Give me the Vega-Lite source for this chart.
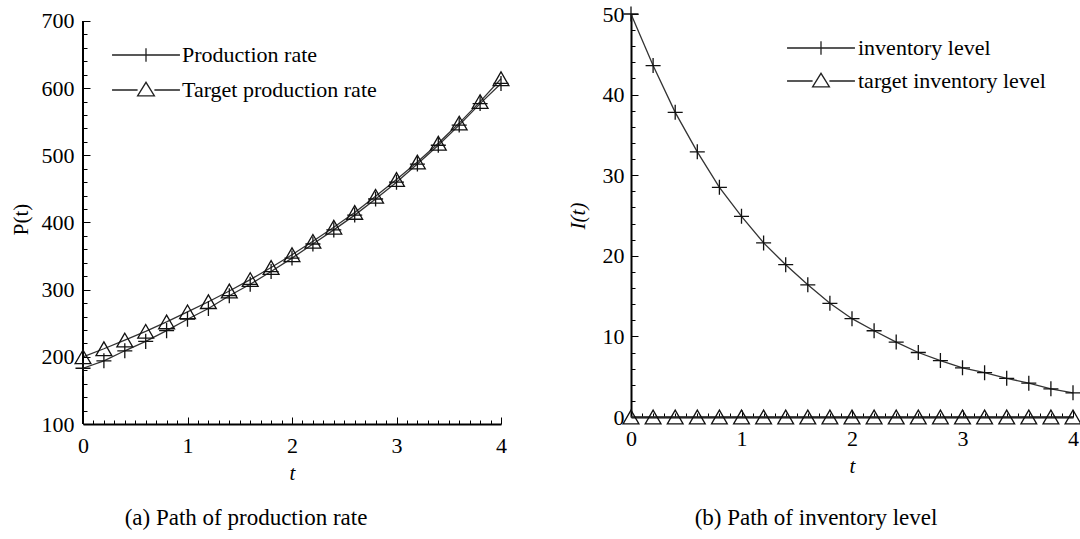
{
  "$schema": "https://vega.github.io/schema/vega-lite/v6.json",
  "background": "white",
  "padding": {"left": 10, "top": 3, "right": 0, "bottom": 0},
  "spacing": 55,
  "config": {
    "font": "Liberation Serif",
    "view": {"stroke": null},
    "axis": {
      "domainColor": "black",
      "domainWidth": 2,
      "tickColor": "black",
      "tickWidth": 1,
      "grid": false,
      "labelFont": "Liberation Serif",
      "labelFontSize": 22,
      "labelColor": "black",
      "labelFlush": false,
      "labelOverlap": false,
      "titleFont": "Liberation Serif",
      "titleFontSize": 21,
      "titleFontWeight": "normal",
      "titleColor": "black"
    },
    "legend": {
      "padding": 0,
      "labelFont": "Liberation Serif",
      "labelFontSize": 22,
      "labelColor": "black",
      "labelLimit": 500,
      "symbolSize": 196,
      "symbolStrokeWidth": 1.3,
      "symbolStrokeColor": "#222",
      "symbolFillColor": "white"
    }
  },
  "datasets": {
    "prod": [
      {"t": 0.0, "value": 183, "series": "Production rate"},
      {"t": 0.2, "value": 194, "series": "Production rate"},
      {"t": 0.4, "value": 209, "series": "Production rate"},
      {"t": 0.6, "value": 223, "series": "Production rate"},
      {"t": 0.8, "value": 239, "series": "Production rate"},
      {"t": 1.0, "value": 256, "series": "Production rate"},
      {"t": 1.2, "value": 272, "series": "Production rate"},
      {"t": 1.4, "value": 291, "series": "Production rate"},
      {"t": 1.6, "value": 308, "series": "Production rate"},
      {"t": 1.8, "value": 327, "series": "Production rate"},
      {"t": 2.0, "value": 347, "series": "Production rate"},
      {"t": 2.2, "value": 368, "series": "Production rate"},
      {"t": 2.4, "value": 389, "series": "Production rate"},
      {"t": 2.6, "value": 411, "series": "Production rate"},
      {"t": 2.8, "value": 435, "series": "Production rate"},
      {"t": 3.0, "value": 460, "series": "Production rate"},
      {"t": 3.2, "value": 487, "series": "Production rate"},
      {"t": 3.4, "value": 515, "series": "Production rate"},
      {"t": 3.6, "value": 545, "series": "Production rate"},
      {"t": 3.8, "value": 577, "series": "Production rate"},
      {"t": 4.0, "value": 607, "series": "Production rate"},
      {"t": 0.0, "value": 200, "series": "Target production rate"},
      {"t": 0.2, "value": 212, "series": "Target production rate"},
      {"t": 0.4, "value": 225, "series": "Target production rate"},
      {"t": 0.6, "value": 238, "series": "Target production rate"},
      {"t": 0.8, "value": 252, "series": "Target production rate"},
      {"t": 1.0, "value": 267, "series": "Target production rate"},
      {"t": 1.2, "value": 282, "series": "Target production rate"},
      {"t": 1.4, "value": 298, "series": "Target production rate"},
      {"t": 1.6, "value": 315, "series": "Target production rate"},
      {"t": 1.8, "value": 333, "series": "Target production rate"},
      {"t": 2.0, "value": 352, "series": "Target production rate"},
      {"t": 2.2, "value": 372, "series": "Target production rate"},
      {"t": 2.4, "value": 393, "series": "Target production rate"},
      {"t": 2.6, "value": 415, "series": "Target production rate"},
      {"t": 2.8, "value": 439, "series": "Target production rate"},
      {"t": 3.0, "value": 464, "series": "Target production rate"},
      {"t": 3.2, "value": 490, "series": "Target production rate"},
      {"t": 3.4, "value": 518, "series": "Target production rate"},
      {"t": 3.6, "value": 548, "series": "Target production rate"},
      {"t": 3.8, "value": 580, "series": "Target production rate"},
      {"t": 4.0, "value": 614, "series": "Target production rate"}
    ],
    "inv": [
      {"t": 0.0, "value": 50.0, "series": "inventory level"},
      {"t": 0.2, "value": 43.6, "series": "inventory level"},
      {"t": 0.4, "value": 37.8, "series": "inventory level"},
      {"t": 0.6, "value": 32.9, "series": "inventory level"},
      {"t": 0.8, "value": 28.5, "series": "inventory level"},
      {"t": 1.0, "value": 24.9, "series": "inventory level"},
      {"t": 1.2, "value": 21.6, "series": "inventory level"},
      {"t": 1.4, "value": 18.9, "series": "inventory level"},
      {"t": 1.6, "value": 16.4, "series": "inventory level"},
      {"t": 1.8, "value": 14.1, "series": "inventory level"},
      {"t": 2.0, "value": 12.2, "series": "inventory level"},
      {"t": 2.2, "value": 10.7, "series": "inventory level"},
      {"t": 2.4, "value": 9.3, "series": "inventory level"},
      {"t": 2.6, "value": 8.0, "series": "inventory level"},
      {"t": 2.8, "value": 7.0, "series": "inventory level"},
      {"t": 3.0, "value": 6.1, "series": "inventory level"},
      {"t": 3.2, "value": 5.5, "series": "inventory level"},
      {"t": 3.4, "value": 4.8, "series": "inventory level"},
      {"t": 3.6, "value": 4.2, "series": "inventory level"},
      {"t": 3.8, "value": 3.5, "series": "inventory level"},
      {"t": 4.0, "value": 3.0, "series": "inventory level"},
      {"t": 0.0, "value": 0, "series": "target inventory level"},
      {"t": 0.2, "value": 0, "series": "target inventory level"},
      {"t": 0.4, "value": 0, "series": "target inventory level"},
      {"t": 0.6, "value": 0, "series": "target inventory level"},
      {"t": 0.8, "value": 0, "series": "target inventory level"},
      {"t": 1.0, "value": 0, "series": "target inventory level"},
      {"t": 1.2, "value": 0, "series": "target inventory level"},
      {"t": 1.4, "value": 0, "series": "target inventory level"},
      {"t": 1.6, "value": 0, "series": "target inventory level"},
      {"t": 1.8, "value": 0, "series": "target inventory level"},
      {"t": 2.0, "value": 0, "series": "target inventory level"},
      {"t": 2.2, "value": 0, "series": "target inventory level"},
      {"t": 2.4, "value": 0, "series": "target inventory level"},
      {"t": 2.6, "value": 0, "series": "target inventory level"},
      {"t": 2.8, "value": 0, "series": "target inventory level"},
      {"t": 3.0, "value": 0, "series": "target inventory level"},
      {"t": 3.2, "value": 0, "series": "target inventory level"},
      {"t": 3.4, "value": 0, "series": "target inventory level"},
      {"t": 3.6, "value": 0, "series": "target inventory level"},
      {"t": 3.8, "value": 0, "series": "target inventory level"},
      {"t": 4.0, "value": 0, "series": "target inventory level"}
    ]
  },
  "hconcat": [
    {
      "width": 418,
      "height": 410,
      "data": {"name": "prod"},
      "title": {"text": "(a) Path of production rate", "orient": "bottom", "anchor": "middle", "frame": "group", "dx": -46, "offset": 24, "fontSize": 23, "font": "Liberation Serif", "fontWeight": "normal", "color": "black"},
      "layer": [
        {"mark": {"type": "line", "stroke": "#333", "strokeWidth": 1.3},
         "encoding": {
           "x": {"field": "t", "type": "quantitative", "scale": {"domain": [0, 4], "nice": false},
             "axis": {"orient": "bottom", "title": "t", "titleFontStyle": "italic", "titlePadding": 6, "labelPadding": 18, "format": "d", "values": [0, 1, 2, 3, 4], "tickSize": -7}},
           "y": {"field": "value", "type": "quantitative", "scale": {"domain": [100, 710.4], "nice": false, "zero": false},
             "axis": {"orient": "left", "title": "P(t)", "titlePadding": 10, "labelPadding": 16, "format": "d", "values": [100, 200, 300, 400, 500, 600, 700], "tickSize": -7, "domain": false}},
           "detail": {"field": "series", "type": "nominal"}}},
        {"mark": {"type": "rule", "stroke": "black", "strokeWidth": 2},
         "encoding": {
           "x": {"datum": 0, "type": "quantitative", "axis": null},
           "y": {"datum": 100, "type": "quantitative", "axis": null},
           "y2": {"datum": 700}}},
        {"mark": {"type": "point", "filled": false, "stroke": "#111", "strokeWidth": 1.3, "size": 250, "opacity": 1},
         "encoding": {
           "x": {"field": "t", "type": "quantitative",
             "axis": {"orient": "bottom", "title": null, "labels": false, "domain": false, "tickSize": -4,
               "values": [0.1,0.2,0.3,0.4,0.5,0.6,0.7,0.8,0.9,1.1,1.2,1.3,1.4,1.5,1.6,1.7,1.8,1.9,2.1,2.2,2.3,2.4,2.5,2.6,2.7,2.8,2.9,3.1,3.2,3.3,3.4,3.5,3.6,3.7,3.8,3.9]}},
           "y": {"field": "value", "type": "quantitative",
             "axis": {"orient": "left", "title": null, "labels": false, "domain": false, "tickSize": -4,
               "values": [120,140,160,180,220,240,260,280,320,340,360,380,420,440,460,480,520,540,560,580,620,640,660,680]}},
           "shape": {"field": "series", "type": "nominal",
             "scale": {"domain": ["Production rate", "Target production rate"], "range": ["M-0.95,0H0.95M0,-0.95V0.95", "triangle-up"]},
             "legend": null}}},
        {"transform": [{"filter": "datum.t < 0"}],
         "mark": {"type": "point", "filled": false, "stroke": "#222", "strokeWidth": 1.3},
         "encoding": {
           "x": {"field": "t", "type": "quantitative", "axis": null},
           "y": {"field": "value", "type": "quantitative", "axis": null},
           "shape": {"field": "series", "type": "nominal",
             "scale": {"domain": ["Production rate", "Target production rate"],
               "range": ["M-4.85,0H4.85M0,-0.95V0.95", "M-4.85,0H-1.2M1.2,0H4.85M-1.2,0.85L0,-1.1L1.2,0.85Z"]},
             "legend": {"title": null, "orient": "none", "legendX": 52, "legendY": 30, "labelOffset": 25, "rowPadding": 13, "symbolOpacity": 1}}}}
      ],
      "resolve": {"axis": {"x": "independent", "y": "independent"}, "scale": {"shape": "independent"}}
    },
    {
      "width": 442,
      "height": 403,
      "data": {"name": "inv"},
      "title": {"text": "(b) Path of inventory level", "orient": "bottom", "anchor": "middle", "frame": "group", "dx": -36, "offset": 31, "fontSize": 23, "font": "Liberation Serif", "fontWeight": "normal", "color": "black"},
      "layer": [
        {"mark": {"type": "line", "stroke": "#333", "strokeWidth": 1.3},
         "encoding": {
           "x": {"field": "t", "type": "quantitative", "scale": {"domain": [0, 4], "nice": false},
             "axis": {"orient": "bottom", "title": "t", "titleFontStyle": "italic", "titlePadding": 6, "labelPadding": 18, "format": "d", "values": [0, 1, 2, 3, 4], "tickSize": -7}},
           "y": {"field": "value", "type": "quantitative", "scale": {"domain": [0, 50], "nice": false},
             "axis": {"orient": "left", "title": "I(t)", "titleFontStyle": "italic", "titlePadding": 14, "labelPadding": 14, "format": "d", "values": [0, 10, 20, 30, 40, 50], "tickSize": -7}},
           "detail": {"field": "series", "type": "nominal"}}},
        {"mark": {"type": "point", "filled": false, "stroke": "#111", "strokeWidth": 1.3, "size": 250, "opacity": 1},
         "encoding": {
           "x": {"field": "t", "type": "quantitative",
             "axis": {"orient": "bottom", "title": null, "labels": false, "domain": false, "tickSize": -4,
               "values": [0.1,0.2,0.3,0.4,0.5,0.6,0.7,0.8,0.9,1.1,1.2,1.3,1.4,1.5,1.6,1.7,1.8,1.9,2.1,2.2,2.3,2.4,2.5,2.6,2.7,2.8,2.9,3.1,3.2,3.3,3.4,3.5,3.6,3.7,3.8,3.9]}},
           "y": {"field": "value", "type": "quantitative",
             "axis": {"orient": "left", "title": null, "labels": false, "domain": false, "tickSize": -4,
               "values": [2,4,6,8,12,14,16,18,22,24,26,28,32,34,36,38,42,44,46,48]}},
           "shape": {"field": "series", "type": "nominal",
             "scale": {"domain": ["inventory level", "target inventory level"], "range": ["M-0.95,0H0.95M0,-0.95V0.95", "triangle-up"]},
             "legend": null}}},
        {"transform": [{"filter": "datum.t < 0"}],
         "mark": {"type": "point", "filled": false, "stroke": "#222", "strokeWidth": 1.3},
         "encoding": {
           "x": {"field": "t", "type": "quantitative", "axis": null},
           "y": {"field": "value", "type": "quantitative", "axis": null},
           "shape": {"field": "series", "type": "nominal",
             "scale": {"domain": ["inventory level", "target inventory level"],
               "range": ["M-4.85,0H4.85M0,-0.95V0.95", "M-4.85,0H-1.2M1.2,0H4.85M-1.2,0.85L0,-1.1L1.2,0.85Z"]},
             "legend": {"title": null, "orient": "none", "legendX": 179, "legendY": 23, "labelOffset": 26, "rowPadding": 11, "symbolOpacity": 1}}}}
      ],
      "resolve": {"axis": {"x": "independent", "y": "independent"}, "scale": {"shape": "independent"}}
    }
  ],
  "resolve": {"scale": {"shape": "independent"}, "legend": {"shape": "independent"}}
}
